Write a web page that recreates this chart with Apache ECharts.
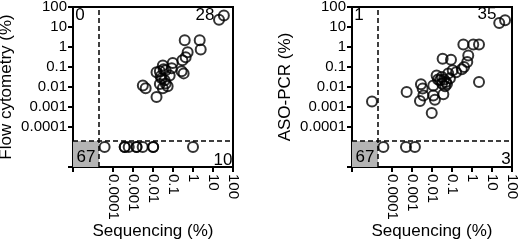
<!DOCTYPE html>
<html>
<head>
<meta charset="utf-8">
<script src="https://cdn.jsdelivr.net/npm/echarts@6/dist/echarts.min.js"></script>
<style>
  html, body { margin: 0; padding: 0; background: #fff; }
  #main { width: 520px; height: 242px; }
</style>
</head>
<body>
<div id="main"></div>
<script>
let chart = echarts.init(document.getElementById("main"));

// negatives are drawn at this value, cut-off lines at CUT
const NEG = 1e-5;
const CUT = 2e-5;
const AXIS_MIN = 1e-6;
const AXIS_MAX = 100;
const tickValues = [1e-6, 1e-4, 1e-3, 1e-2, 1e-1, 1, 10, 100];
const labelValues = [1e-4, 1e-3, 1e-2, 1e-1, 1, 10, 100];

// sequencing vs flow cytometry, both positive
const flowBoth = [
    [35, 38], [20, 23], [0.385, 2.16], [2.16, 2.16], [2.43, 0.74],
    [0.54, 0.54], [0.43, 0.31], [0.295, 0.22], [0.097, 0.16], [0.031, 0.12],
    [0.022, 0.061], [0.043, 0.068], [0.068, 0.038], [0.27, 0.061], [0.34, 0.048],
    [0.015, 0.054], [0.027, 0.027], [0.038, 0.022], [0.022, 0.014], [0.054, 0.011],
    [0.031, 0.0086], [0.0031, 0.012], [0.0043, 0.0086], [0.015, 0.0032], [0.034, 0.077],
    [0.086, 0.086], [0.024, 0.034], [0.043, 0.015],
];
// sequencing positive, flow negative (x values)
const flowSeqOnly = [3.8e-5, 3.85e-4, 3.85e-4, 6.1e-4, 1.5e-3, 1.5e-3, 3.05e-3, 0.0102, 0.0102, 1];

// sequencing vs ASO-PCR, both positive
const pcrBoth = [
    [23, 16], [45, 22], [0.37, 1.32], [1.16, 1.32], [2.24, 1.32],
    [0.65, 0.38], [0.58, 0.18], [0.4, 0.1], [0.31, 0.077], [2.24, 0.018],
    [0.034, 0.26], [0.089, 0.23], [0.108, 0.068], [0.065, 0.047], [0.017, 0.038],
    [0.031, 0.032], [0.04, 0.024], [0.025, 0.022], [0.05, 0.018], [0.032, 0.015],
    [0.056, 0.014], [0.02, 0.024], [0.0116, 0.012], [0.0028, 0.0137], [0.0034, 0.0083],
    [0.00054, 0.0056], [0.0037, 0.0038], [0.0116, 0.0038], [0.037, 0.0043], [0.0025, 0.002],
    [0.014, 0.0023], [0.0097, 0.0005], [0.079, 0.027], [0.045, 0.011], [0.16, 0.054],
];
const pcrSeqOnly = [3.7e-5, 5e-4, 1.4e-3];
const pcrOnly = [0.0019]; // sequencing negative

function fmt(v) {
    let e = Math.round(Math.log10(v));
    if (e >= 0) return String(Math.pow(10, e));
    return "0." + "0".repeat(-e - 1) + "1";
}

function makeAxis(gridIndex, name, isX) {
    return {
        type: "log",
        logBase: 10,
        gridIndex: gridIndex,
        min: AXIS_MIN,
        max: AXIS_MAX,
        name: name,
        nameLocation: "middle",
        nameGap: isX ? 56 : 58,
        nameMoveOverlap: false,
        nameTextStyle: { color: "#000", fontSize: 17, fontFamily: "Liberation Sans" },
        axisLine: { show: true, onZero: false, lineStyle: { color: "#000", width: 2 } },
        axisTick: { show: true, length: 5, customValues: tickValues, lineStyle: { color: "#000", width: 2 } },
        axisLabel: {
            customValues: labelValues,
            rotate: isX ? -90 : 0,
            margin: isX ? 7 : 6,
            color: "#000",
            fontSize: 15,
            fontFamily: "Liberation Sans",
            formatter: fmt,
        },
        splitLine: { show: false },
        minorTick: { show: false },
    };
}

function cutLines() {
    return {
        silent: true,
        symbol: "none",
        label: { show: false },
        lineStyle: { color: "#000", width: 1.5, type: [5, 3] },
        data: [
            [{ coord: [CUT, AXIS_MIN] }, { coord: [CUT, AXIS_MAX] }],
            [{ coord: [AXIS_MIN, CUT] }, { coord: [AXIS_MAX, CUT] }],
        ],
    };
}

function grayBox() {
    return {
        silent: true,
        itemStyle: { color: "#b4b4b4" },
        data: [[{ coord: [AXIS_MIN, AXIS_MIN] }, { coord: [CUT, CUT] }]],
    };
}

const markerStyle = { color: "rgba(0,0,0,0)", borderColor: "#000", borderWidth: 2 };

function scatter(idx, data, extra) {
    return Object.assign({
        type: "scatter",
        xAxisIndex: idx,
        yAxisIndex: idx,
        symbol: "circle",
        symbolSize: 10,
        itemStyle: markerStyle,
        data: data,
    }, extra || {});
}

function countText(x, y, s) {
    return {
        type: "text",
        x: x,
        y: y,
        z: 100,
        style: {
            text: s,
            fill: "#000",
            font: "17px Liberation Sans",
            align: "center",
            verticalAlign: "middle",
        },
    };
}

let options = {
    animation: false,
    grid: [
        { left: 73, top: 7, width: 160, height: 160, show: true, borderColor: "#000", borderWidth: 2, outerBoundsMode: "none", containLabel: false },
        { left: 352, top: 7, width: 160, height: 160, show: true, borderColor: "#000", borderWidth: 2, outerBoundsMode: "none", containLabel: false },
    ],
    xAxis: [makeAxis(0, "Sequencing (%)", true), makeAxis(1, "Sequencing (%)", true)],
    yAxis: [makeAxis(0, "Flow cytometry (%)", false), makeAxis(1, "ASO-PCR (%)", false)],
    series: [
        scatter(0, flowBoth, { markLine: cutLines(), markArea: grayBox() }),
        scatter(0, flowSeqOnly.map((x) => [x, NEG])),
        scatter(1, pcrBoth, { markLine: cutLines(), markArea: grayBox() }),
        scatter(1, pcrSeqOnly.map((x) => [x, NEG])),
        scatter(1, pcrOnly.map((y) => [NEG, y])),
    ],
    graphic: [
        countText(80, 15, "0"),
        countText(205, 15, "28"),
        countText(86, 157, "67"),
        countText(223, 160, "10"),
        countText(359, 15, "1"),
        countText(487, 14, "35"),
        countText(365, 157, "67"),
        countText(506, 159, "3"),
    ],
};
chart.setOption(options);
</script>
</body>
</html>
